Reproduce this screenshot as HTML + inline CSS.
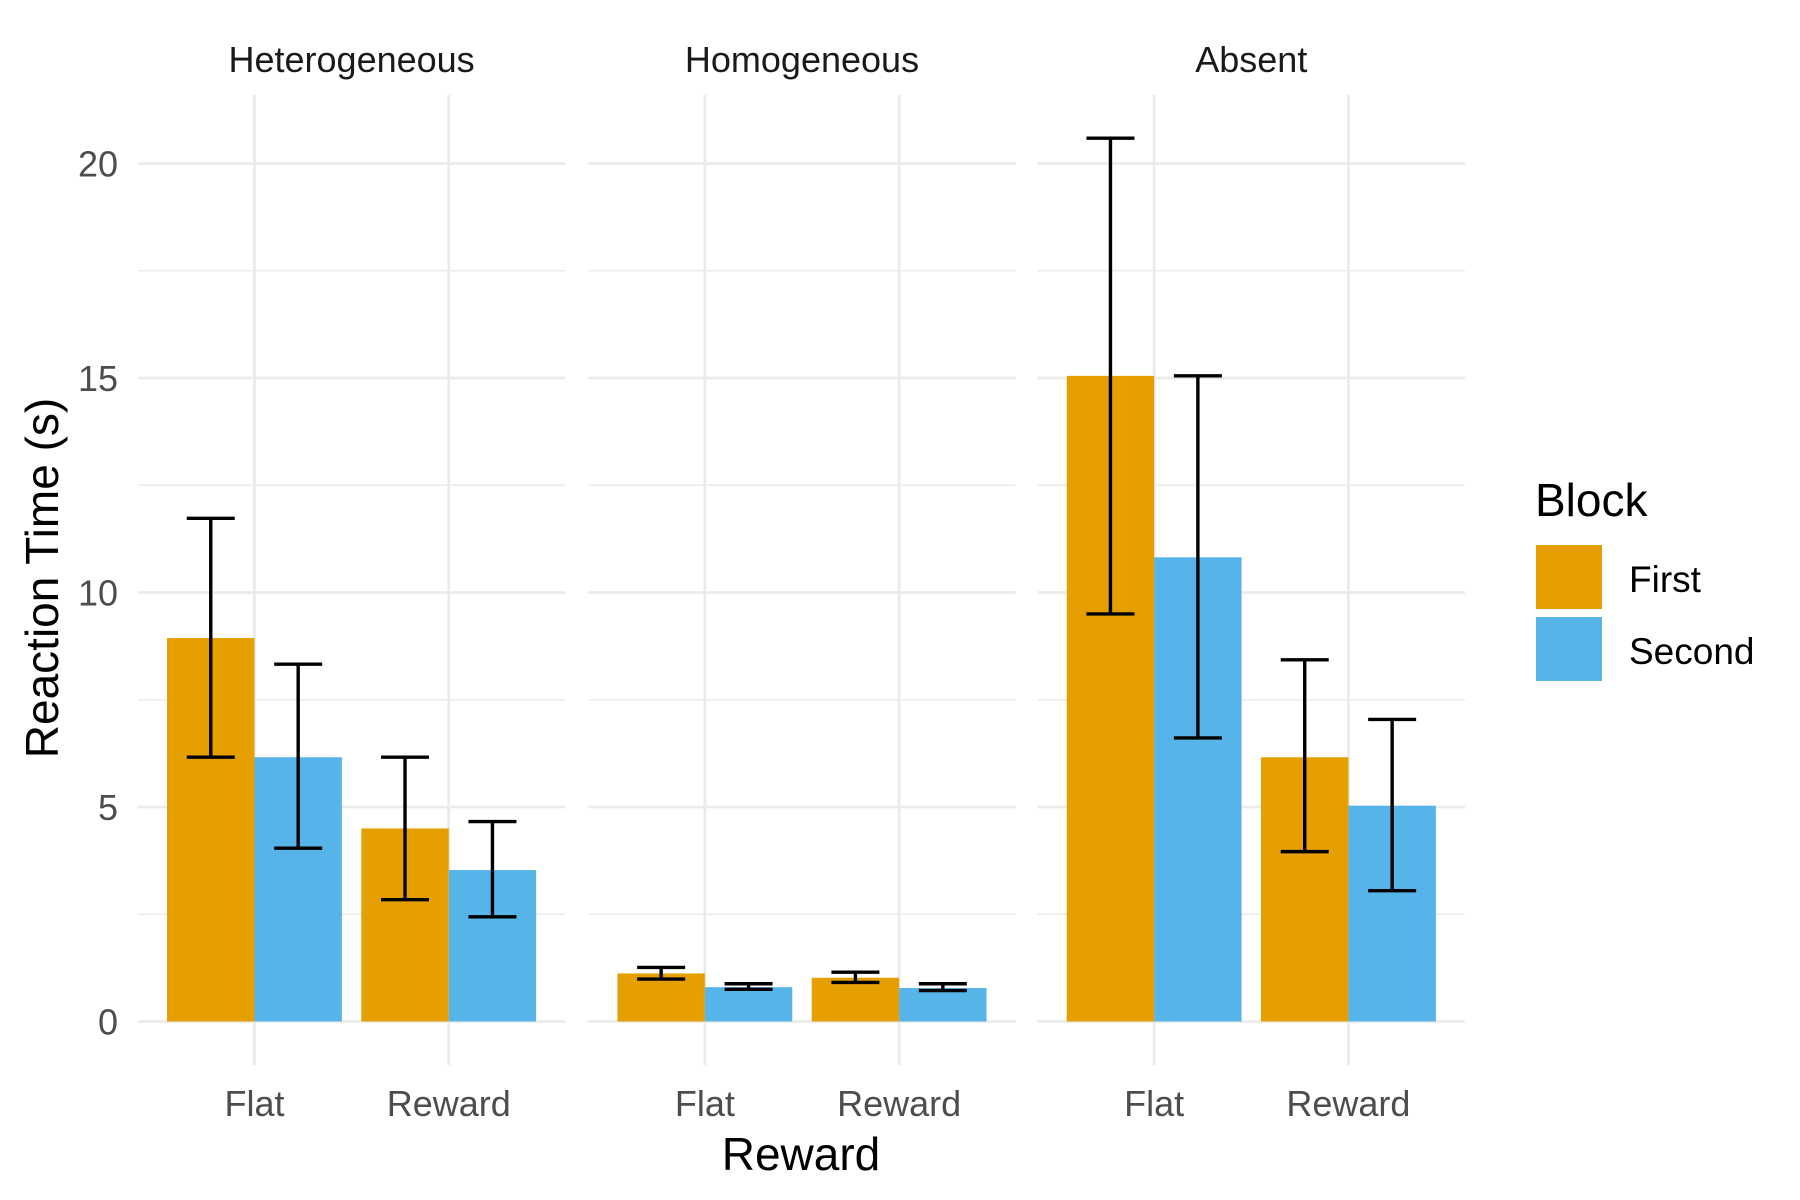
<!DOCTYPE html>
<html><head><meta charset="utf-8"><style>
html,body{margin:0;padding:0;background:#fff}
svg{display:block;font-family:"Liberation Sans",Arial,sans-serif}
</style></head><body>
<svg id="chart" width="1800" height="1200" viewBox="0 0 1800 1200" xmlns="http://www.w3.org/2000/svg">
<g id="grid"></g>
<g id="bars"></g>
<g id="errs"></g>
<g id="labels"></g>
<text x="0" y="0" transform="translate(58,578) rotate(-90)" text-anchor="middle" font-size="46" fill="#000">Reaction Time (s)</text>
<text x="801" y="1170" text-anchor="middle" font-size="46" fill="#000">Reward</text>
<g>
<text x="1535" y="516" font-size="46" fill="#000">Block</text>
<rect x="1536" y="545" width="66" height="64" fill="#E69F00"/>
<rect x="1536" y="617" width="66" height="64" fill="#56B4E9"/>
<text x="1629" y="592" font-size="37" fill="#000">First</text>
<text x="1629" y="664" font-size="37" fill="#000">Second</text>
</g>
</svg>
<script>
const panels = ["Heterogeneous","Homogeneous","Absent"];
const categories = ["Flat","Reward"];
const series = ["First","Second"];
const colors = ["#E69F00","#56B4E9"];
// values[panel][category]
const firstValues = [[8.94,4.50],[1.12,1.02],[15.05,6.16]];
const secondValues = [[6.16,3.53],[0.80,0.78],[10.82,5.03]];
const firstLow = [[6.16,2.84],[0.99,0.91],[9.50,3.96]];
const firstHigh = [[11.73,6.16],[1.26,1.15],[20.59,8.43]];
const secondLow = [[4.04,2.44],[0.75,0.72],[6.61,3.05]];
const secondHigh = [[8.33,4.66],[0.88,0.88],[15.05,7.04]];
const yTicks = [0,5,10,15,20];
const yMinor = [2.5,7.5,12.5,17.5];

const NS="http://www.w3.org/2000/svg";
const panelX0=[137.9,588.3,1037.6], panelW=427.4;
const yTop=95, yBot=1065;
function y(v){return 1021.5-(v)*42.9;}
function x(p,c){return panelX0[p]+panelW*((c+1)-0.4)/2.2;}
const unit=panelW/2.2;
function el(tag,attrs,parent){const e=document.createElementNS(NS,tag);for(const k in attrs)e.setAttribute(k,attrs[k]);parent.appendChild(e);return e;}
const grid=document.getElementById('grid'),bars=document.getElementById('bars'),errs=document.getElementById('errs'),labels=document.getElementById('labels');
const vals=[firstValues,secondValues],lows=[firstLow,secondLow],highs=[firstHigh,secondHigh];
panels.forEach((pn,p)=>{
  const x0=panelX0[p],x1=x0+panelW;
  yMinor.forEach(t=>{const l=el('line',{x1:x0,x2:x1,y1:y(t),y2:y(t),stroke:'#ebebeb','stroke-width':1.4},grid);
    
    });
  yTicks.forEach(t=>{const l=el('line',{x1:x0,x2:x1,y1:y(t),y2:y(t),stroke:'#ebebeb','stroke-width':2.8},grid);
    
    });
  categories.forEach((c,ci)=>{const l=el('line',{x1:x(p,ci),x2:x(p,ci),y1:yTop,y2:yBot,stroke:'#ebebeb','stroke-width':2.8},grid);
    
    
    const t=el('text',{x:x(p,ci),y:1116,'text-anchor':'middle','font-size':36,fill:'#4d4d4d'},labels);t.textContent=c;
    
    
    series.forEach((s,si)=>{
      const bw=unit*0.45, bx=x(p,ci)-unit*0.45+si*bw, v=vals[si][p][ci];
      const r=el('rect',{x:bx,y:y(v),width:bw,height:y(0)-y(v),fill:colors[si]},bars);
      
      
      const cx=bx+bw/2, lo=y(lows[si][p][ci]), hi=y(highs[si][p][ci]), hw=24;
      const g=el('path',{d:`M${cx-hw},${hi}H${cx+hw}M${cx},${hi}V${lo}M${cx-hw},${lo}H${cx+hw}`,stroke:'#000','stroke-width':3.4,fill:'none'},errs);
      
      
    });
  });
  const st=el('text',{x:x0+panelW/2,y:72,'text-anchor':'middle','font-size':36,fill:'#1a1a1a'},labels);st.textContent=pn;
  
  
});
yTicks.forEach(t=>{const tx=el('text',{x:118,y:y(t)+13,'text-anchor':'end','font-size':36,fill:'#4d4d4d'},labels);tx.textContent=t;
  
  });
</script>
</body></html>
